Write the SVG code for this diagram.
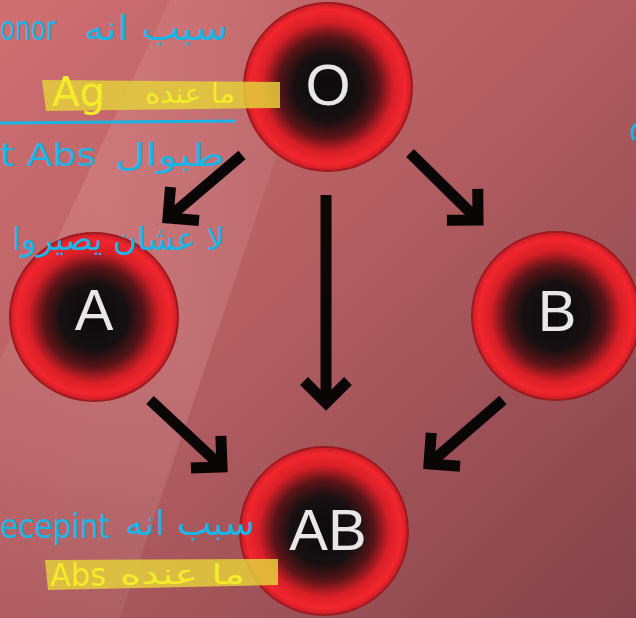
<svg xmlns="http://www.w3.org/2000/svg" width="636" height="618" viewBox="0 0 636 618">
<defs>
  <linearGradient id="bg" x1="0" y1="0" x2="1" y2="1">
    <stop offset="0" stop-color="#cf6f72"/>
    <stop offset="0.45" stop-color="#b45e62"/>
    <stop offset="1" stop-color="#84434a"/>
  </linearGradient>
  <linearGradient id="streak" x1="0" y1="1" x2="1" y2="0">
    <stop offset="0" stop-color="#ffffff" stop-opacity="0"/>
    <stop offset="0.5" stop-color="#ffd0d0" stop-opacity="0.16"/>
    <stop offset="1" stop-color="#ffffff" stop-opacity="0"/>
  </linearGradient>
  <radialGradient id="cell" cx="0.5" cy="0.5" r="0.5">
    <stop offset="0" stop-color="#0c0a0c"/>
    <stop offset="0.4" stop-color="#161012"/>
    <stop offset="0.6" stop-color="#5a1418"/>
    <stop offset="0.78" stop-color="#d81f27"/>
    <stop offset="0.92" stop-color="#f2262e"/>
    <stop offset="1" stop-color="#c81c24"/>
  </radialGradient>
  <marker id="chev" markerUnits="userSpaceOnUse" markerWidth="60" markerHeight="60" refX="0" refY="0" viewBox="-40 -30 60 60" orient="auto">
    <path d="M-22,-22 L0,0 L-22,22" fill="none" stroke="#0a0606" stroke-width="11" stroke-linejoin="miter"/>
  </marker>
  <style>
    .cell { fill: url(#cell); stroke: #9c1a20; stroke-width: 2; }
    .lbl { font-family: "Liberation Sans", Arial, sans-serif; font-size: 58px; fill: #e8e6e6; text-anchor: middle; }
    .arrow { stroke: #0a0606; stroke-width: 11; fill: none; marker-end: url(#chev); }
    .cy { font-family: "DejaVu Sans", "Noto Sans", sans-serif; fill: #1ab4e6; }
    .ye { font-family: "DejaVu Sans", "Noto Sans", sans-serif; fill: #f4ec28; }
    .hl { fill: #e3cf3c; opacity: 0.85; }
  </style>
</defs>

<rect width="636" height="618" fill="url(#bg)"/>
<polygon points="0,360 170,0 330,0 120,618 0,618" fill="url(#streak)"/>

<g id="connectors">
  <line class="arrow" x1="242" y1="155" x2="168" y2="218"/>
  <line class="arrow" x1="326" y1="195" x2="326" y2="403"/>
  <line class="arrow" x1="410" y1="153" x2="478" y2="220"/>
  <line class="arrow" x1="150" y1="400" x2="222" y2="467"/>
  <line class="arrow" x1="503" y1="400" x2="429" y2="464"/>
</g>

<g id="node-O">
  <circle class="cell" cx="328" cy="87" r="84"/>
  <text class="lbl" x="328" y="105">O</text>
</g>
<g id="node-A">
  <circle class="cell" cx="94" cy="317" r="84"/>
  <text class="lbl" x="94" y="330">A</text>
</g>
<g id="node-B">
  <circle class="cell" cx="556" cy="316" r="84"/>
  <text class="lbl" x="557" y="331">B</text>
</g>
<g id="node-AB">
  <circle class="cell" cx="324" cy="531" r="84"/>
  <text class="lbl" x="328" y="550">AB</text>
</g>

<g id="annotations">
  <polygon class="hl" points="42,80 280,82 280,108 46,111"/>
  <polygon class="hl" points="45,560 278,559 278,585 48,590"/>
  <text class="cy" x="0" y="40" font-size="34" textLength="56" lengthAdjust="spacingAndGlyphs">onor</text>
  <text class="cy" x="84" y="40" font-size="34" textLength="144" lengthAdjust="spacingAndGlyphs">سبب انه</text>
  <text class="ye" x="52" y="106" font-size="40" textLength="53" lengthAdjust="spacingAndGlyphs">Ag</text>
  <text class="ye" x="145" y="103" font-size="28" textLength="90" lengthAdjust="spacingAndGlyphs">ما عنده</text>
  <line x1="0" y1="123" x2="236" y2="121" stroke="#1ab4e6" stroke-width="3"/>
  <text class="cy" x="0" y="166" font-size="32" textLength="96" lengthAdjust="spacingAndGlyphs">t Abs</text>
  <text class="cy" x="115" y="166" font-size="32" textLength="110" lengthAdjust="spacingAndGlyphs">طبوال</text>
  <text class="cy" x="12" y="250" font-size="32" textLength="213" lengthAdjust="spacingAndGlyphs">لا عشان يصيروا</text>
  <text class="cy" x="0" y="538" font-size="34" textLength="110" lengthAdjust="spacingAndGlyphs">ecepint</text>
  <text class="cy" x="125" y="535" font-size="34" textLength="130" lengthAdjust="spacingAndGlyphs">سبب انه</text>
  <text class="ye" x="50" y="586" font-size="32" textLength="56" lengthAdjust="spacingAndGlyphs">Abs</text>
  <text class="ye" x="120" y="584" font-size="28" textLength="125" lengthAdjust="spacingAndGlyphs">ما عنده</text>
  <path d="M636,124 Q629,131 634,140" fill="none" stroke="#1ab4e6" stroke-width="3"/>
</g>
</svg>
